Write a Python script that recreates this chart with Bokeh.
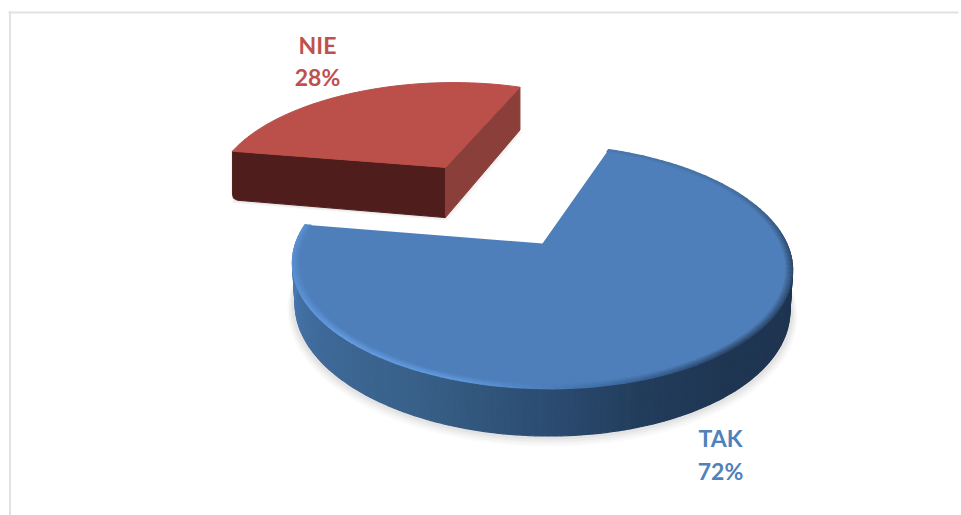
import math
from bokeh.plotting import figure
from bokeh.models import Range1d
from bokeh.core.properties import value
from bokeh.embed import file_html
from bokeh.resources import INLINE

# ---- chart data ----
categories = ["TAK", "NIE"]
percent = [72, 28]
label_colors = ["#4f81bd", "#c0504d"]
label_x = [720, 317]
label_y_name = [437, 44]
label_y_pct = [470, 76]

# ---- projection of the pie plane (unit disk) on to the page ----
APEX_X, APEX_Y = 542, 243
SX, SY, PERSP, ROLL = 245.5, 117.7, -0.1885, 0.014
START_DEG = 18.5
EXPLODE = 0.85
RED_R, RED_VS = 1.03, 1.07
H_BLUE, H_RED = 40, 57


def project(u, v, h=0.0):
    w = 1 + PERSP * v
    x = SX * u / w
    y = SY * v / w + h / w
    return APEX_X + x, APEX_Y + y + ROLL * x


def polar(deg, r=1.0, dx=0.0, dy=0.0, vs=1.0):
    a = math.radians(deg)
    return dx + r * math.sin(a), dy - r * vs * math.cos(a)


def hex2rgb(c):
    return tuple(int(c[i:i + 2], 16) for i in (1, 3, 5))


def mix(c1, c2, t):
    a, b = hex2rgb(c1), hex2rgb(c2)
    return "#%02x%02x%02x" % tuple(round(a[i] + (b[i] - a[i]) * t) for i in range(3))


def ramp(stops, d):
    if d <= stops[0][0]:
        return stops[0][1]
    for (d0, c0), (d1, c1) in zip(stops, stops[1:]):
        if d <= d1:
            return mix(c0, c1, (d - d0) / (d1 - d0))
    return stops[-1][1]


BLUE_TOP = "#4f7fba"
RED_TOP = "#bb4f4a"
BLUE_EDGE = [(18, "#4a78af"), (60, "#44709f"), (95, "#2c4a6d"), (140, "#2a4566"),
             (170, "#3f70aa"), (195, "#5f97dc"), (225, "#649ce2"), (255, "#5a90d4"), (280, "#5b90d2")]
BLUE_SIDE = [(90, "#1e344f"), (140, "#1f3653"), (160, "#223c5b"), (180, "#2c4d72"),
             (205, "#386088"), (235, "#3f6a9a"), (265, "#4a7ab2"), (280, "#4c7cb5")]

# sector angles come from the values
blue_start = START_DEG
blue_end = blue_start + percent[0] * 3.6
red_start = blue_end
red_end = red_start + percent[1] * 3.6
red_mid = (red_start + red_end) / 2
red_du, red_dv = polar(red_mid, EXPLODE)


def sector(d0, d1, dx=0.0, dy=0.0, h=0.0, r=1.0, vs=1.0, n=80):
    pts = []
    for i in range(n + 1):
        d = d0 + (d1 - d0) * i / n
        u, v = polar(d, r, dx, dy, vs)
        pts.append(project(u, v, h))
    pts.append(project(dx, dy, h))
    return [q[0] for q in pts], [q[1] for q in pts]


p = figure(width=961, height=515, x_range=Range1d(0, 961), y_range=Range1d(515, 0),
           output_backend="svg", toolbar_location=None, min_border=0)
p.xaxis.visible = False
p.yaxis.visible = False
p.grid.visible = False
p.outline_line_color = None
p.background_fill_color = "white"
p.border_fill_color = "white"

# frame of the picture
p.segment(x0=[9.5, 8], y0=[11, 12], x1=[9.5, 958], y1=[515, 12], line_color="#e2e2e2", line_width=2)

# soft shadows
for g, off, al in [(1.025, 4, .02), (1.02, 3, .025), (1.014, 2, .03), (1.008, 1, .035)]:
    x, y = sector(blue_start, blue_end, h=H_BLUE + off, r=g * .995)
    p.patch(x, y, fill_color="#000000", fill_alpha=al, line_color=None)
    x, y = sector(red_start, red_end, red_du, red_dv, h=H_RED + off, r=RED_R * g * .99, vs=RED_VS)
    x = [a + off * 1.2 - 2 for a in x]
    p.patch(x, y, fill_color="#000000", fill_alpha=al, line_color=None)

# ---- NIE: exploded slice ----
red_l = polar(red_start, RED_R, red_du, red_dv, RED_VS)
red_r = polar(red_end, RED_R, red_du, red_dv, RED_VS)
top_l = project(*red_l)
top_r = project(*red_r)
apex = project(red_du, red_dv)
bot_l = project(*red_l, H_RED)
bot_r = project(*red_r, H_RED)
bot_a = project(red_du, red_dv, H_RED)
p.patch([top_l[0], apex[0], bot_a[0], bot_l[0] + 5, bot_l[0] + 1, bot_l[0]],
        [top_l[1], apex[1], bot_a[1], bot_l[1], bot_l[1] - 2, bot_l[1] - 6],
        fill_color="#4f1e1c", line_color="#4f1e1c", line_width=1)
p.patch([apex[0], top_r[0], bot_r[0], bot_a[0]],
        [apex[1], top_r[1], bot_r[1], bot_a[1]],
        fill_color="#8a3f3a", line_color="#8a3f3a", line_width=1)
x, y = sector(red_start, red_end, red_du, red_dv, r=RED_R, vs=RED_VS)
p.patch(x, y, fill_color=RED_TOP, line_color=RED_TOP, line_width=1)

# ---- TAK: main slice, side wall as many narrow strips ----
N = 160
BOTTOM_R = 0.99
xs, ys, cols = [], [], []
side0 = max(blue_start, 80)
side1 = blue_end
for i in range(N):
    d0 = side0 + (side1 - side0) * i / N
    d1 = side0 + (side1 - side0) * (i + 1) / N
    dm = (d0 + d1) / 2
    a0 = project(*polar(d0))
    a1 = project(*polar(d1))
    b1 = project(*polar(d1, BOTTOM_R), H_BLUE)
    b0 = project(*polar(d0, BOTTOM_R), H_BLUE)
    xs.append([a0[0], a1[0], b1[0], b0[0]])
    ys.append([a0[1], a1[1], b1[1], b0[1]])
    cols.append(ramp(BLUE_SIDE, dm))
p.patches(xs, ys, fill_color=cols, line_color=cols, line_width=1.2)

x, y = sector(blue_start, blue_end, n=160)
p.patch(x, y, fill_color=BLUE_TOP, line_color=None)

# bevel along the rim: thin concentric outlines from the face colour to the edge colour
M = 130
radii = [0.976, 0.982, 0.988, 0.994, 1.0]
for j, r in enumerate(radii):
    xs, ys, cols = [], [], []
    for i in range(M):
        d0 = blue_start + (blue_end - blue_start) * i / M
        d1 = blue_start + (blue_end - blue_start) * (i + 1) / M
        a0 = project(*polar(d0, r))
        a1 = project(*polar(d1, r))
        xs.append([a0[0], a1[0]])
        ys.append([a0[1], a1[1]])
        cols.append(mix(BLUE_TOP, ramp(BLUE_EDGE, (d0 + d1) / 2), (j + 1) / len(radii)))
    p.multi_line(xs, ys, line_color=cols, line_width=1.6, line_cap="round")

# ---- labels ----
names = categories
pcts = [f"{v}%" for v in percent]
for txt, ly in ((names, label_y_name), (pcts, label_y_pct)):
    p.text(x=label_x, y=ly, text=txt, text_color=label_colors, text_align="center",
           text_baseline="middle", text_font=value("Lato"), text_font_style="bold",
           text_font_size="23px")

open("out.html", "w").write(file_html(p, INLINE))
